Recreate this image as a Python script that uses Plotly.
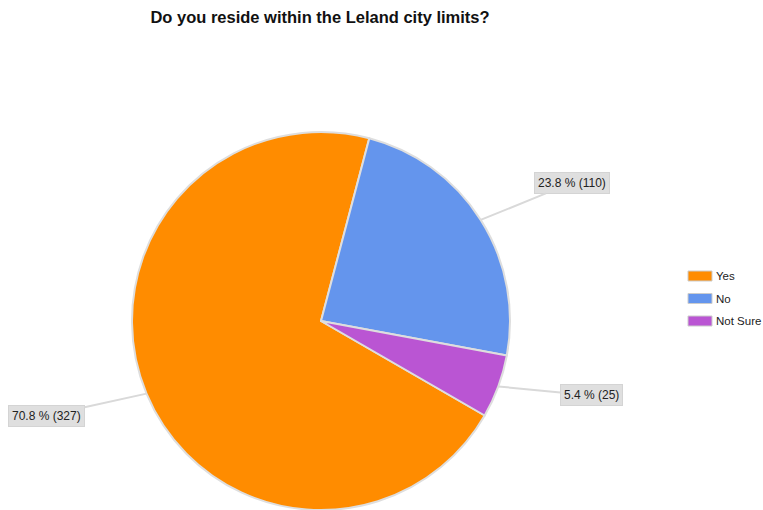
import math
import plotly.graph_objects as go

# Survey answers
categories = ["Yes", "No", "Not Sure"]
counts = [327, 110, 25]
colors = ["#ff8c00", "#6495ed", "#ba55d3"]
title_text = "Do you reside within the Leland city limits?"

W, H = 763, 510
FONT = "Arial, Liberation Sans, sans-serif"

# Pie geometry (pixels from top-left)
cx, cy, r = 321, 321, 189
rotation = 120  # first slice starts here, measured clockwise from 12 o'clock

fig = go.Figure()
fig.add_trace(go.Pie(
    labels=categories,
    values=counts,
    sort=False,
    direction="clockwise",
    rotation=rotation,
    marker=dict(colors=colors, line=dict(color="#dedede", width=2)),
    textinfo="none",
    showlegend=False,
    domain=dict(x=[(cx - r) / W, (cx + r) / W], y=[0, 2 * r / H]),
))

# Outside labels with leader lines, placed at each slice's mid-angle
total = sum(counts)
label_offsets = [(-100, 22), (91, -37), (93, 9)]
start = rotation
annotations = []
for val, (ox, oy) in zip(counts, label_offsets):
    span = 360 * val / total
    mid = math.radians(start + span / 2)
    start += span
    px = cx + r * math.sin(mid)
    py = cy - r * math.cos(mid)
    annotations.append(dict(
        x=px / W, y=1 - py / H, xref="paper", yref="paper",
        text=f"{100 * val / total:.1f} % ({val})",
        showarrow=True, arrowhead=0, arrowwidth=2, arrowcolor="#d9d9d9",
        ax=ox, ay=oy,
        bgcolor="#dfdfdf", bordercolor="#d4d4d4", borderwidth=1, borderpad=3,
        font=dict(family=FONT, size=12, color="#222222"),
    ))

# Legend drawn as swatches with labels
shapes = []
leg_x, leg_y0, leg_step = 688, 276, 22.5
for i, (name, col) in enumerate(zip(categories, colors)):
    yc = leg_y0 + i * leg_step
    shapes.append(dict(
        type="rect", xref="paper", yref="paper",
        x0=leg_x / W, x1=(leg_x + 24) / W,
        y0=1 - (yc + 5) / H, y1=1 - (yc - 5) / H,
        fillcolor=col, line=dict(color="#cccccc", width=1),
    ))
    annotations.append(dict(
        x=(leg_x + 26) / W, y=1 - yc / H, xref="paper", yref="paper",
        text=name, showarrow=False, xanchor="left", yanchor="middle",
        font=dict(family=FONT, size=11.5, color="#222222"),
    ))

fig.update_layout(
    width=W, height=H,
    margin=dict(l=0, r=0, t=0, b=0),
    paper_bgcolor="white", plot_bgcolor="white",
    title=dict(
        text=f"<b>{title_text}</b>",
        x=320 / W, xanchor="center", y=1 - 17 / H, yanchor="middle",
        font=dict(family=FONT, size=16.5, color="#111111"),
    ),
    annotations=annotations,
    shapes=shapes,
)

fig.write_html("out.html")
